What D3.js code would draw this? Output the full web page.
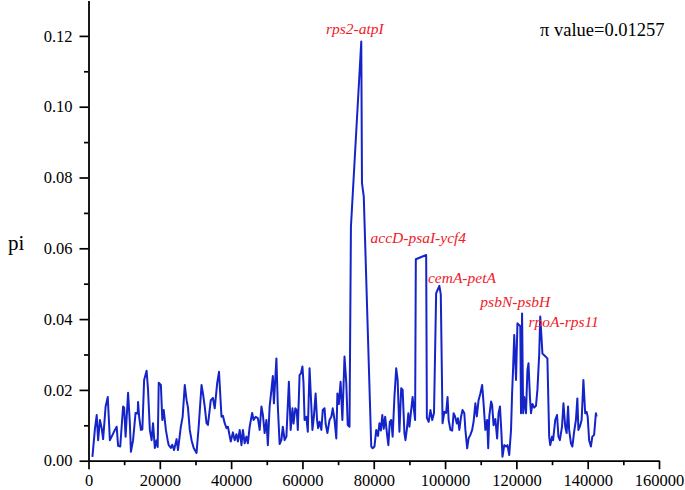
<!DOCTYPE html>
<html>
<head>
<meta charset="utf-8">
<script src="https://cdn.jsdelivr.net/npm/d3@7"></script>
<style>
  html, body { margin: 0; padding: 0; background: #fff; }
  svg { display: block; }
</style>
</head>
<body>
<svg id="chart" width="685" height="490"></svg>
<script>
// ---- data ----
const positions = [1100,1800,2300,2700,3200,3700,4100,4800,5400,6000,6500,7400,7900,8300,8900,9700,10000,10400,11100,11600,11900,12500,13200,13800,13900,14200,14700,15100,15600,16300,16700,17200,17700,18100,18600,19100,19400,19700,20300,20700,21100,21700,22200,22500,23100,23500,24000,24700,25100,25900,26400,27000,27500,27900,28400,28900,29500,30300,30900,31700,32100,32600,33100,33500,34300,34900,35400,36100,36600,37300,37700,38200,38700,39100,39900,40500,41000,41500,41900,42400,42900,43300,43800,44300,44700,45200,45900,46300,46900,47500,48000,48500,48900,49400,49900,50300,50800,51300,51700,52000,52700,53100,53600,54100,54500,55000,55500,56200,56700,57200,57500,58000,58400,58700,59200,59600,60000,60300,60600,61100,61500,62000,62500,62800,63200,63700,64100,64400,64800,65300,65700,66200,66500,67000,67600,68100,68500,69000,69500,69800,70200,70700,71200,71800,72300,72700,73200,73600,76500,76700,77200,79300,79700,80200,80700,81200,81600,82000,82400,82800,83200,83800,84100,84500,84900,85300,85800,86300,86700,87200,87700,88100,88600,88900,89300,89700,90000,90500,90900,91200,91600,91800,94700,94900,95400,95900,96400,96900,97500,98400,98800,99300,99800,100300,100700,101000,101500,102000,102400,102800,103300,103600,104000,104500,104900,105400,105700,106200,106600,107100,107600,108000,108500,108900,109400,109900,110400,110800,111300,111800,112100,112400,112900,113200,113600,114100,114600,115000,115400,115800,116100,116600,117100,117500,118000,118500,118800,119100,119400,119900,120300,120800,121100,121300,121600,121900,122200,122700,123100,123400,123800,124100,124500,125000,125500,125900,126400,126700,127200,127300,128700,129200,129500,130000,130300,130900,131400,131800,132200,132800,133200,133700,134100,134500,134800,135300,135700,136200,136700,137100,137400,137800,138300,138800,139300,139700,140000,140400,140900,141300,141800,142300,142500];
const piValues = [0.0011,0.0090,0.0129,0.0058,0.0115,0.0092,0.0061,0.0153,0.0180,0.0058,0.0068,0.0087,0.0096,0.0042,0.0040,0.0153,0.0150,0.0068,0.0192,0.0106,0.0025,0.0058,0.0135,0.0133,0.0166,0.0124,0.0087,0.0088,0.0228,0.0254,0.0200,0.0087,0.0058,0.0106,0.0036,0.0058,0.0039,0.0220,0.0214,0.0115,0.0143,0.0087,0.0058,0.0044,0.0036,0.0045,0.0030,0.0061,0.0030,0.0096,0.0124,0.0214,0.0171,0.0150,0.0087,0.0058,0.0036,0.0022,0.0096,0.0214,0.0190,0.0153,0.0106,0.0101,0.0171,0.0177,0.0148,0.0220,0.0251,0.0124,0.0127,0.0106,0.0092,0.0096,0.0054,0.0080,0.0058,0.0075,0.0054,0.0087,0.0044,0.0087,0.0049,0.0068,0.0049,0.0096,0.0135,0.0115,0.0124,0.0120,0.0087,0.0153,0.0130,0.0078,0.0115,0.0044,0.0153,0.0200,0.0239,0.0162,0.0289,0.0153,0.0047,0.0058,0.0096,0.0058,0.0068,0.0223,0.0087,0.0148,0.0105,0.0148,0.0143,0.0087,0.0242,0.0247,0.0266,0.0220,0.0115,0.0124,0.0082,0.0261,0.0153,0.0087,0.0124,0.0190,0.0115,0.0092,0.0110,0.0087,0.0143,0.0148,0.0105,0.0078,0.0115,0.0124,0.0148,0.0115,0.0063,0.0190,0.0160,0.0223,0.0115,0.0294,0.0220,0.0101,0.0096,0.0661,0.1184,0.0784,0.0746,0.0040,0.0035,0.0040,0.0087,0.0070,0.0106,0.0085,0.0129,0.0090,0.0124,0.0068,0.0044,0.0110,0.0115,0.0068,0.0180,0.0261,0.0228,0.0082,0.0205,0.0200,0.0078,0.0058,0.0090,0.0134,0.0096,0.0143,0.0180,0.0150,0.0115,0.0569,0.0581,0.0121,0.0110,0.0143,0.0115,0.0135,0.0473,0.0494,0.0470,0.0106,0.0138,0.0135,0.0180,0.0115,0.0087,0.0085,0.0134,0.0125,0.0105,0.0120,0.0087,0.0125,0.0143,0.0134,0.0087,0.0035,0.0063,0.0073,0.0087,0.0110,0.0162,0.0125,0.0171,0.0190,0.0214,0.0162,0.0087,0.0115,0.0035,0.0125,0.0167,0.0158,0.0100,0.0118,0.0063,0.0134,0.0153,0.0080,0.0011,0.0044,0.0040,0.0044,0.0016,0.0087,0.0190,0.0266,0.0355,0.0228,0.0388,0.0383,0.0380,0.0134,0.0416,0.0134,0.0180,0.0134,0.0256,0.0275,0.0180,0.0134,0.0160,0.0150,0.0155,0.0200,0.0300,0.0407,0.0322,0.0303,0.0289,0.0068,0.0044,0.0068,0.0058,0.0115,0.0129,0.0068,0.0058,0.0096,0.0162,0.0096,0.0078,0.0153,0.0087,0.0049,0.0040,0.0082,0.0115,0.0176,0.0087,0.0096,0.0115,0.0228,0.0134,0.0138,0.0124,0.0058,0.0040,0.0068,0.0073,0.0134,0.0125];
const xTicks = [0,20000,40000,60000,80000,100000,120000,140000,160000];
const xMinorTicks = [10000,30000,50000,70000,90000,110000,130000,150000];
const yTicks = [0.00,0.02,0.04,0.06,0.08,0.10,0.12];
const yMinorTicks = [0.01,0.03,0.05,0.07,0.09,0.11];
const regionLabels = ["rps2-atpI","accD-psaI-ycf4","cemA-petA","psbN-psbH","rpoA-rps11"];
const regionX = [66600,79100,95200,109900,123400];
const regionY = [0.1206,0.0614,0.0502,0.0434,0.0379];
const piText = "\u03C0 value=0.01257";
const yTitle = "pi";

// ---- drawing ----
const svg = d3.select("#chart");
const x = d3.scaleLinear().domain([0,160000]).range([88.5,659]);
const y = d3.scaleLinear().domain([0,0.13]).range([460.7,0.5]);
const serif = "'Liberation Serif','Times New Roman',serif";

// line
const data = positions.map((p,i)=>({p, v: piValues[i]}));
svg.append("path")
  .datum(data)
  .attr("fill","none")
  .attr("stroke","#1424c8")
  .attr("stroke-width",2)
  .attr("stroke-linejoin","round")
  .attr("d", d3.line().x(d=>x(d.p)).y(d=>y(d.v)));

// axes
const gx = svg.append("g").attr("transform",`translate(0,${y(0)})`);
gx.call(d3.axisBottom(x).tickValues(xMinorTicks).tickSize(4.5).tickFormat("").tickSizeOuter(0))
  .call(g=>g.select(".domain").remove());
gx.append("g").call(d3.axisBottom(x).tickValues(xTicks).tickSize(8.5).tickPadding(5).tickFormat(d3.format("d")).tickSizeOuter(0));

const gy = svg.append("g").attr("transform",`translate(${x(0)},0)`);
gy.call(d3.axisLeft(y).tickValues(yMinorTicks).tickSize(4.5).tickFormat("").tickSizeOuter(0))
  .call(g=>g.select(".domain").remove());
gy.append("g").call(d3.axisLeft(y).tickValues(yTicks).tickSize(9).tickPadding(7).tickFormat(d3.format(".2f")).tickSizeOuter(0));

svg.selectAll(".tick line").attr("stroke","#000").attr("stroke-width",1.7);
svg.selectAll(".domain").attr("stroke","#000").attr("stroke-width",1.8);
svg.selectAll(".tick text").attr("font-family",serif).attr("font-size",16.5).attr("fill","#000");

// y title
svg.append("text").attr("x",8).attr("y",250)
  .attr("font-family",serif).attr("font-size",21).attr("fill","#000").text(yTitle);

// pi value
svg.append("text").attr("x",540).attr("y",36)
  .attr("font-family",serif).attr("font-size",18.5).attr("fill","#000").text(piText);

// region labels
svg.selectAll(".region").data(regionLabels).enter().append("text")
  .attr("class","region")
  .attr("x",(d,i)=>x(regionX[i]))
  .attr("y",(d,i)=>y(regionY[i]))
  .attr("font-family",serif).attr("font-style","italic").attr("font-size",15.5)
  .attr("fill","#f0202a")
  .text(d=>d);
</script>
</body>
</html>
